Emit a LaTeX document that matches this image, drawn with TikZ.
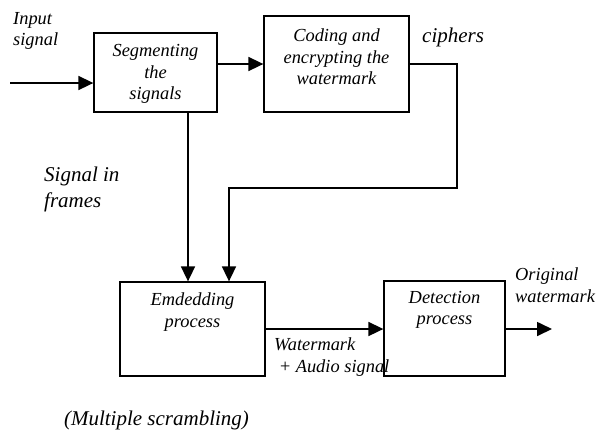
\documentclass[tikz,border=0pt]{standalone}
\usepackage{fontspec}
\setmainfont{Liberation Serif}
\usetikzlibrary{arrows.meta}
\begin{document}
\begin{tikzpicture}[x=1pt,y=-1pt,
  blk/.style={draw, line width=1.3pt, inner sep=0pt},
  arr/.style={line width=1.7pt, -{Triangle[length=15pt,width=14pt]}},
  small/.style={inner sep=0pt, font=\fontsize{18.4}{21.5}\selectfont\itshape},
  big/.style={inner sep=0pt, font=\fontsize{21}{26}\selectfont\itshape}]
\useasboundingbox (0,0) rectangle (596,432);

% processing blocks
\node[blk, minimum width=123pt, minimum height=79pt] (seg) at (155.5,72.5) {};
\node[blk, minimum width=145pt, minimum height=96pt] (cod) at (336.5,64) {};
\node[blk, minimum width=145pt, minimum height=94pt] (emb) at (192.5,329) {};
\node[blk, minimum width=121pt, minimum height=95pt] (det) at (444.5,328.5) {};

% block captions
\node[small, align=center] (segtxt) at (155.5,74) {Segmenting\\the\\signals};
\node[small, align=center] (codtxt) at (336.5,57) {Coding and\\encrypting the\\watermark};
\node[small, align=center] (embtxt) at (192.5,312) {Emdedding\\process};
\node[small, align=center] (dettxt) at (444.5,310) {Detection\\process};

% free labels
\node[small, align=left, anchor=west] (inlbl) at (13,31) {Input\\signal};
\node[big, anchor=west] (ciph) at (422,37) {ciphers};
\node[big, align=left, anchor=west] (frm) at (44,189) {Signal in\\frames};
\node[small, align=left, anchor=west] (wmk) at (274,357) {Watermark\\\ + Audio signal};
\node[small, align=left, anchor=west] (orig) at (515,285) {Original\\watermark};
\node[big] (scr) at (156.5,420) {(Multiple scrambling)};

% connectors
\coordinate (in) at (10,83);
\coordinate (r1) at (457,188);
\coordinate (out) at (552,329);
\draw[arr] (in) -- (in -| seg.west);
\draw[arr] (seg.east |- cod.west) -- (cod.west);
\draw[arr] (cod.east) -| (r1) -| ([xshift=36.5pt]emb.north);
\draw[arr] ([xshift=32.5pt]seg.south) -- ([xshift=32.5pt]seg.south |- emb.north);
\draw[arr] (emb.east) -- (emb.east -| det.west);
\draw[arr] (det.east |- out) -- (out);
\end{tikzpicture}
\end{document}
